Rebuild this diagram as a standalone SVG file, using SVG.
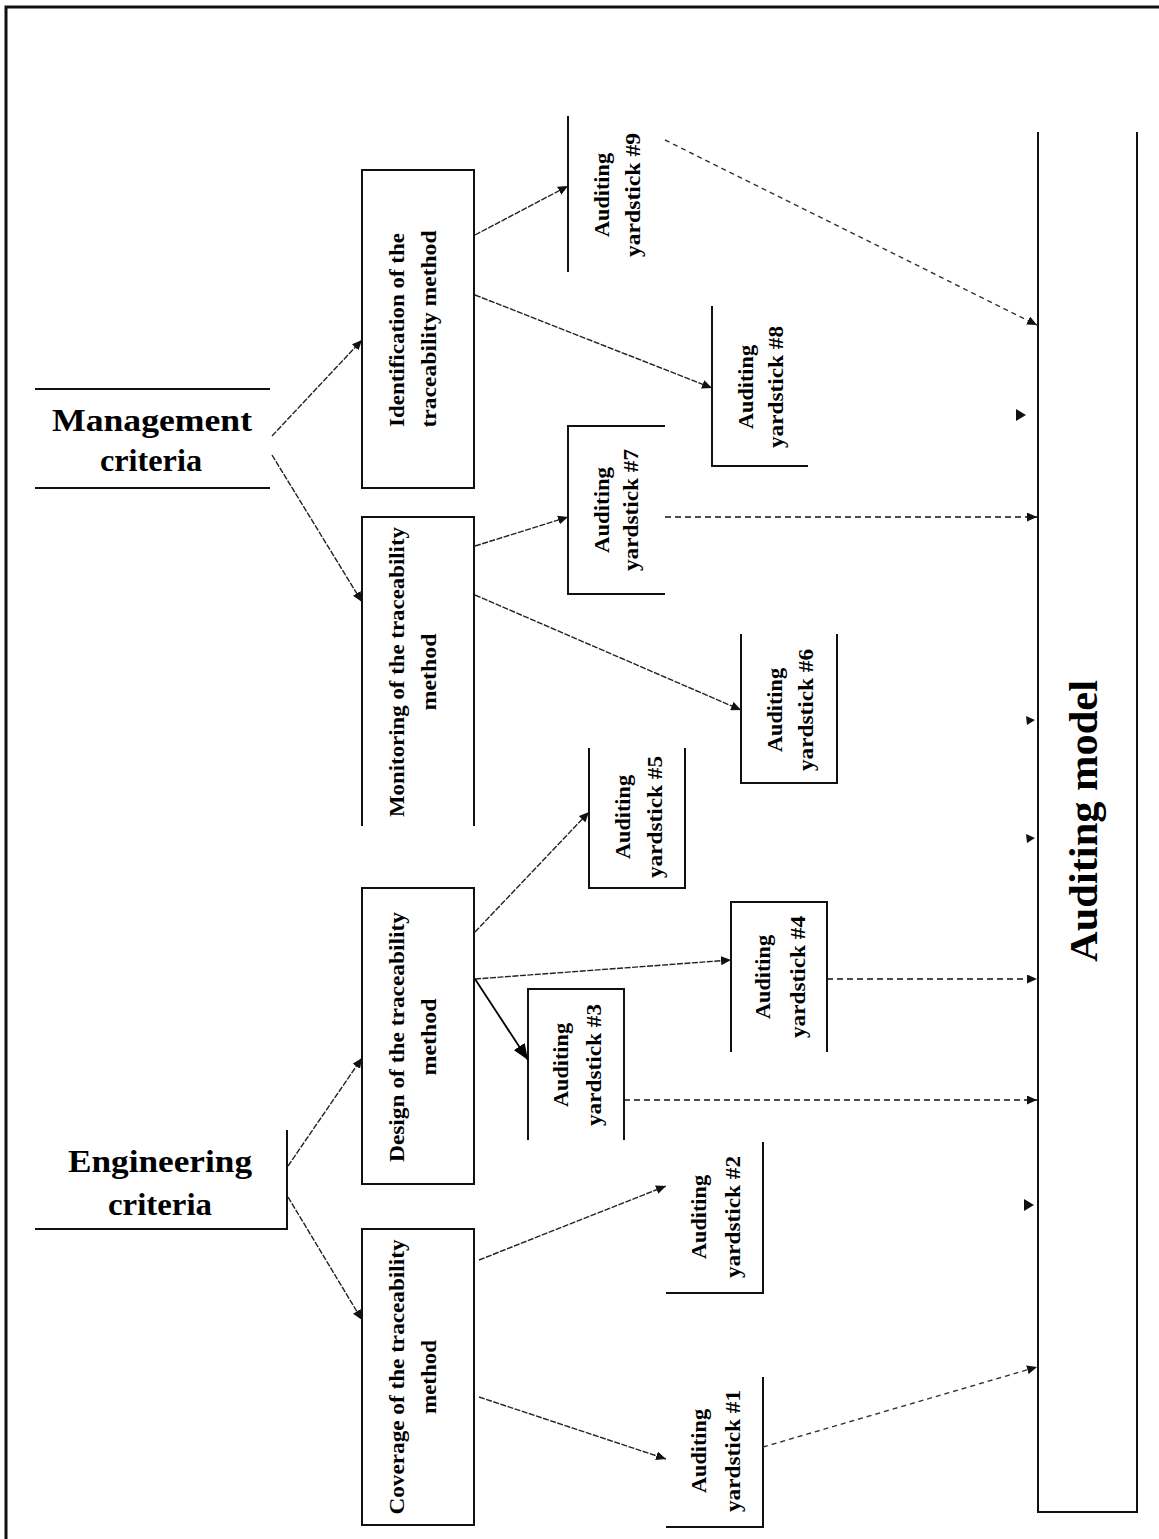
<svg xmlns="http://www.w3.org/2000/svg" width="1159" height="1539" viewBox="0 0 1159 1539">
<style>
.bx{fill:none;stroke:#111;stroke-width:2}
.t{font-family:"Liberation Serif","Times New Roman",serif;font-weight:bold;fill:#000}
.r{text-anchor:middle;dominant-baseline:central;font-size:20px}
.big{font-size:32px;text-anchor:middle}
.c{fill:none;stroke:#222;stroke-width:1.4;stroke-dasharray:6 1.5}
.h{fill:none;stroke:#111;stroke-width:1.6;stroke-dasharray:6 4}
.d{fill:none;stroke:#333;stroke-width:1.4;stroke-dasharray:5 4}
</style>
<defs>
<marker id="a" markerUnits="userSpaceOnUse" markerWidth="11" markerHeight="9" refX="10" refY="4.5" orient="auto"><path d="M0,0 L10,4.5 L0,9 z" fill="#111"/></marker>
<marker id="ab" markerUnits="userSpaceOnUse" markerWidth="17" markerHeight="13" refX="16" refY="6.5" orient="auto"><path d="M0,0 L16,6.5 L0,13 z" fill="#000"/></marker>
</defs>
<rect width="1159" height="1539" fill="#fff"/>
<path d="M6,1539 V7 H1159" fill="none" stroke="#111" stroke-width="3"/>

<g id="management">
<path class="bx" d="M35,389 H270 M35,488 H270"/>
<text class="t big" x="152" y="431" textLength="200" lengthAdjust="spacingAndGlyphs">Management</text>
<text class="t big" x="151" y="471" textLength="102" lengthAdjust="spacingAndGlyphs">criteria</text>
</g>
<g id="engineering">
<path class="bx" d="M287,1130 V1229 H35"/>
<text class="t big" x="160" y="1172" textLength="184" lengthAdjust="spacingAndGlyphs">Engineering</text>
<text class="t big" x="160" y="1215" textLength="104" lengthAdjust="spacingAndGlyphs">criteria</text>
</g>

<g id="identification">
<rect class="bx" x="362" y="170" width="112" height="318"/>
<text class="t r" transform="translate(397,330) rotate(-90)" textLength="194" lengthAdjust="spacingAndGlyphs">Identification of the</text>
<text class="t r" transform="translate(429,329) rotate(-90)" textLength="197" lengthAdjust="spacingAndGlyphs">traceability method</text>
</g>
<g id="monitoring">
<path class="bx" d="M362,826 V517 H474 V826"/>
<text class="t r" transform="translate(397,672) rotate(-90)" textLength="290" lengthAdjust="spacingAndGlyphs">Monitoring of the traceability</text>
<text class="t r" transform="translate(429,672) rotate(-90)" textLength="77" lengthAdjust="spacingAndGlyphs">method</text>
</g>
<g id="design">
<rect class="bx" x="362" y="888" width="112" height="296"/>
<text class="t r" transform="translate(397,1037) rotate(-90)" textLength="250" lengthAdjust="spacingAndGlyphs">Design of the traceability</text>
<text class="t r" transform="translate(429,1037) rotate(-90)" textLength="77" lengthAdjust="spacingAndGlyphs">method</text>
</g>
<g id="coverage">
<rect class="bx" x="362" y="1229" width="112" height="296"/>
<text class="t r" transform="translate(397,1377) rotate(-90)" textLength="275" lengthAdjust="spacingAndGlyphs">Coverage of the traceability</text>
<text class="t r" transform="translate(429,1377) rotate(-90)" textLength="74" lengthAdjust="spacingAndGlyphs">method</text>
</g>

<g id="y9">
<path class="bx" d="M568,116 V272"/>
<text class="t r" transform="translate(602,195) rotate(-90)" textLength="84" lengthAdjust="spacingAndGlyphs">Auditing</text>
<text class="t r" transform="translate(633,195) rotate(-90)" textLength="124" lengthAdjust="spacingAndGlyphs">yardstick #9</text>
</g>
<g id="y8">
<path class="bx" d="M712,306 V466 H808"/>
<text class="t r" transform="translate(746,387) rotate(-90)" textLength="84" lengthAdjust="spacingAndGlyphs">Auditing</text>
<text class="t r" transform="translate(776,387) rotate(-90)" textLength="122" lengthAdjust="spacingAndGlyphs">yardstick #8</text>
</g>
<g id="y7">
<path class="bx" d="M665,426 H568 V594 H665"/>
<text class="t r" transform="translate(602,510) rotate(-90)" textLength="86" lengthAdjust="spacingAndGlyphs">Auditing</text>
<text class="t r" transform="translate(631,510) rotate(-90)" textLength="122" lengthAdjust="spacingAndGlyphs">yardstick #7</text>
</g>
<g id="y6">
<path class="bx" d="M741,634 V783 H837 V634"/>
<text class="t r" transform="translate(775,710) rotate(-90)" textLength="84" lengthAdjust="spacingAndGlyphs">Auditing</text>
<text class="t r" transform="translate(806,710) rotate(-90)" textLength="122" lengthAdjust="spacingAndGlyphs">yardstick #6</text>
</g>
<g id="y5">
<path class="bx" d="M589,748 V888 H685 V748"/>
<text class="t r" transform="translate(623,817) rotate(-90)" textLength="84" lengthAdjust="spacingAndGlyphs">Auditing</text>
<text class="t r" transform="translate(655,817) rotate(-90)" textLength="122" lengthAdjust="spacingAndGlyphs">yardstick #5</text>
</g>
<g id="y4">
<path class="bx" d="M731,1052 V902 H827 V1052"/>
<text class="t r" transform="translate(763,977) rotate(-90)" textLength="84" lengthAdjust="spacingAndGlyphs">Auditing</text>
<text class="t r" transform="translate(798,977) rotate(-90)" textLength="122" lengthAdjust="spacingAndGlyphs">yardstick #4</text>
</g>
<g id="y3">
<path class="bx" d="M528,1140 V989 H624 V1140"/>
<text class="t r" transform="translate(561,1065) rotate(-90)" textLength="84" lengthAdjust="spacingAndGlyphs">Auditing</text>
<text class="t r" transform="translate(594,1065) rotate(-90)" textLength="122" lengthAdjust="spacingAndGlyphs">yardstick #3</text>
</g>
<g id="y2">
<path class="bx" d="M763,1142 V1293 H666"/>
<text class="t r" transform="translate(699,1217) rotate(-90)" textLength="84" lengthAdjust="spacingAndGlyphs">Auditing</text>
<text class="t r" transform="translate(733,1217) rotate(-90)" textLength="122" lengthAdjust="spacingAndGlyphs">yardstick #2</text>
</g>
<g id="y1">
<path class="bx" d="M763,1377 V1527 H666"/>
<text class="t r" transform="translate(699,1451) rotate(-90)" textLength="84" lengthAdjust="spacingAndGlyphs">Auditing</text>
<text class="t r" transform="translate(733,1451) rotate(-90)" textLength="122" lengthAdjust="spacingAndGlyphs">yardstick #1</text>
</g>

<g id="model">
<path class="bx" d="M1038,132 V1512 H1137 V132"/>
<text class="t" transform="translate(1097,821) rotate(-90)" font-size="40" text-anchor="middle" textLength="282" lengthAdjust="spacingAndGlyphs">Auditing model</text>
</g>

<g id="connectors">
<line class="c" x1="272" y1="436" x2="362" y2="340" marker-end="url(#a)"/>
<line class="c" x1="272" y1="455" x2="362" y2="602" marker-end="url(#a)"/>
<line class="c" x1="288" y1="1166" x2="362" y2="1058" marker-end="url(#a)"/>
<line class="c" x1="288" y1="1197" x2="362" y2="1320" marker-end="url(#a)"/>
<line class="c" x1="475" y1="235" x2="568" y2="186" marker-end="url(#a)"/>
<line class="c" x1="475" y1="295" x2="712" y2="388" marker-end="url(#a)"/>
<line class="c" x1="475" y1="546" x2="568" y2="517" marker-end="url(#a)"/>
<line class="c" x1="475" y1="595" x2="741" y2="710" marker-end="url(#a)"/>
<line class="c" x1="475" y1="932" x2="589" y2="812" marker-end="url(#a)"/>
<line class="c" x1="475" y1="979" x2="731" y2="960" stroke-dasharray="30 6" marker-end="url(#a)"/>
<line x1="475" y1="979" x2="528" y2="1060" stroke="#000" stroke-width="1.8" marker-end="url(#ab)"/>
<line class="c" x1="479" y1="1260" x2="666" y2="1186" marker-end="url(#a)"/>
<line class="c" x1="479" y1="1397" x2="666" y2="1459" marker-end="url(#a)"/>
<line class="d" x1="665" y1="140" x2="1037" y2="325" marker-end="url(#a)"/>
<line class="h" x1="665" y1="517" x2="1037" y2="517" marker-end="url(#a)"/>
<line class="h" x1="827" y1="979" x2="1037" y2="979" marker-end="url(#a)"/>
<line class="h" x1="624" y1="1100" x2="1037" y2="1100" marker-end="url(#a)"/>
<line class="d" x1="763" y1="1447" x2="1037" y2="1367" marker-end="url(#a)"/>
<path d="M1016,409 L1026,415 L1016,421 z" fill="#111"/>
<path d="M1026,716 L1035,720 L1027,725 z" fill="#111"/>
<path d="M1026,834 L1035,838 L1027,843 z" fill="#111"/>
<path d="M1024,1199 L1034,1205 L1024,1211 z" fill="#111"/>
</g>
</svg>
